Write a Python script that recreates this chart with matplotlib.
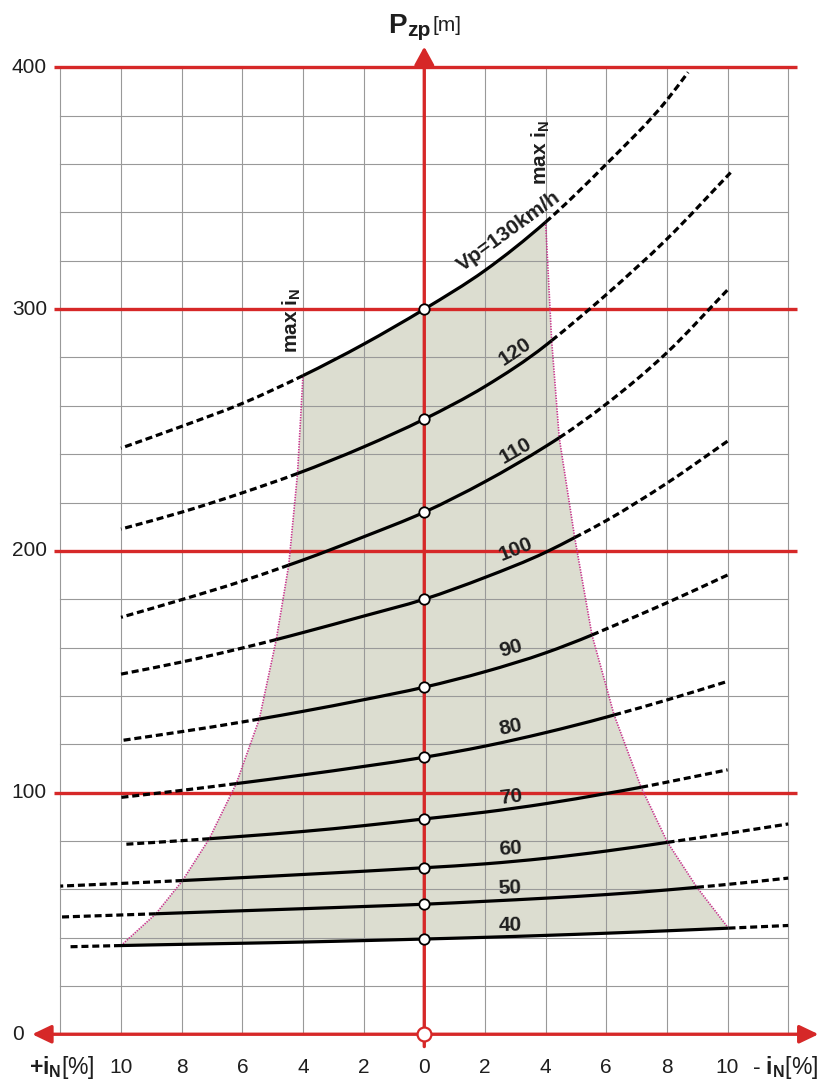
import matplotlib
matplotlib.use('Agg')
import matplotlib.pyplot as plt
from matplotlib.path import Path
from matplotlib.patches import PathPatch
import numpy as np

plt.rcParams['font.family'] = ['Liberation Sans', 'DejaVu Sans']
plt.rcParams['mathtext.fontset'] = 'custom'
plt.rcParams['mathtext.rm'] = 'Liberation Sans'
plt.rcParams['mathtext.bf'] = 'Liberation Sans:bold'
plt.rcParams['mathtext.it'] = 'Liberation Sans:italic'

# ---------------- data ----------------
SPEEDS = [40, 50, 60, 70, 80, 90, 100, 110, 120, 130]
LABELS = ['40', '50', '60', '70', '80', '90', '100', '110', '120', 'Vp=130km/h']

# x < 0 : +i_N (uphill) ; x > 0 : -i_N (downhill)
X_40 = [-11.7, -10, -8, -6, -4, -2, 0, 2, 4, 6, 8, 10.03, 12]
Y_40 = [36.2, 36.7, 37.2, 37.65, 38.15, 38.75, 39.4, 40.1, 40.9, 41.8, 42.8, 43.9, 45.0]
X_50 = [-12, -10, -8.85, -6, -4, -2, 0, 2, 4, 6, 8, 8.99, 10, 12]
Y_50 = [48.5, 49.35, 49.85, 51.1, 51.95, 52.85, 53.8, 55.0, 56.3, 57.8, 59.7, 60.8, 62.0, 64.6]
X_60 = [-12, -10, -7.97, -6, -4, -2, 0, 2, 4, 6, 8.02, 10, 12]
Y_60 = [61.3, 62.4, 63.6, 64.8, 66.1, 67.45, 68.9, 70.5, 72.8, 75.8, 79.4, 83.1, 87.0]
X_70 = [-9.86, -8, -7.09, -6, -4, -2, 0, 2, 4, 6, 7.15, 8, 10]
Y_70 = [78.6, 80.1, 80.9, 81.9, 83.9, 86.3, 89.1, 91.9, 95.4, 99.6, 102.2, 104.3, 109.4]
X_80 = [-10, -8, -6.2, -4, -2, 0, 2, 4, 6, 6.26, 8, 10]
Y_80 = [98, 100.9, 103.7, 107.3, 110.8, 114.6, 119.2, 124.8, 131.2, 132.1, 138.3, 146]
X_90 = [-10, -8, -6, -5.44, -4, -2, 0, 2, 4, 5.53, 6, 8, 10]
Y_90 = [121.5, 125.2, 129.2, 130.4, 133.6, 138.4, 143.6, 150, 157.8, 165.2, 167.7, 178.5, 190]
X_100 = [-10, -8, -6, -4.88, -4, -2, 0, 2, 4, 4.96, 6, 8, 10.07]
Y_100 = [149, 154, 159.8, 163.3, 166.2, 173, 180, 189, 199.4, 205.5, 212.5, 228, 246]
X_110 = [-10, -8, -6, -4.47, -4, -2, 0, 2, 4, 4.45, 6, 8, 10.04]
Y_110 = [172.5, 179.8, 187.5, 194.1, 196.2, 205.8, 216, 228.6, 243.2, 246.8, 260.75, 282, 308.5]
X_120 = [-10, -8, -6, -4.18, -2, 0, 2, 4, 4.2, 6, 8, 10.1]
Y_120 = [209, 216, 224, 232, 243, 254.5, 268, 285, 287, 306, 329, 356.5]
X_130 = [-10, -8, -6, -4, -2, 0, 2, 4, 6, 8, 8.7]
Y_130 = [242.5, 251.5, 261, 272.5, 285.5, 300, 316, 336, 360, 386.5, 398]

# max i_N limits (uphill side negative x, downhill side positive x)
LIMIT_UP = [-10.0, -8.85, -7.97, -7.09, -6.2, -5.44, -4.88, -4.47, -4.18, -4.0]
LIMIT_DOWN = [10.03, 8.99, 8.02, 7.15, 6.26, 5.53, 4.96, 4.45, 4.2, 4.0]

X_TICKS = [-10, -8, -6, -4, -2, 0, 2, 4, 6, 8, 10]
X_TICK_LABELS = ['10', '8', '6', '4', '2', '0', '2', '4', '6', '8', '10']
Y_TICKS = [0, 100, 200, 300, 400]

CURVES_X = [X_40, X_50, X_60, X_70, X_80, X_90, X_100, X_110, X_120, X_130]
CURVES_Y = [Y_40, Y_50, Y_60, Y_70, Y_80, Y_90, Y_100, Y_110, Y_120, Y_130]

# ---------------- style ----------------
RED = '#d62828'
GRID = '#999999'
FILL = '#dcddd0'
MAGENTA = '#c8328c'
TXT = '#1e1e1e'
LW = 2.3
DASH = (0, (2.2, 1.2))

fig = plt.figure(figsize=(8.24, 10.81), dpi=100)
ax = fig.add_axes([0, 0, 1, 1])
ax.set_xlim(-13.99, 13.18)
ax.set_ylim(-19.34, 427.9)
ax.axis('off')


# smooth drawing through the read points (cubic Hermite as Bezier segments)
def slopes(xs, ys):
    h = np.diff(xs)
    d = np.diff(ys) / h
    m = np.empty(len(xs))
    m[0], m[-1] = d[0], d[-1]
    for i in range(1, len(xs) - 1):
        m[i] = (d[i - 1] * h[i] + d[i] * h[i - 1]) / (h[i - 1] + h[i])
    return m


def segs(xs, ys, m, i0, i1):
    out = []
    for i in range(i0, i1):
        h = xs[i + 1] - xs[i]
        p0 = (xs[i], ys[i])
        c1 = (xs[i] + h / 3, ys[i] + m[i] * h / 3)
        c2 = (xs[i + 1] - h / 3, ys[i + 1] - m[i + 1] * h / 3)
        p1 = (xs[i + 1], ys[i + 1])
        out.append((p0, c1, c2, p1))
    return out


def seg_path(sg):
    verts = [sg[0][0]]
    codes = [Path.MOVETO]
    for p0, c1, c2, p1 in sg:
        verts += [c1, c2, p1]
        codes += [Path.CURVE4] * 3
    return Path(verts, codes)


def idx(xs, v):
    return int(np.argmin(np.abs(np.array(xs) - v)))


# grid
for gx in range(-12, 13, 2):
    if gx != 0:
        ax.plot([gx, gx], [0, 400], color=GRID, lw=0.8, zorder=2)
for gy in range(20, 400, 20):
    if gy % 100 != 0:
        ax.plot([-12, 12], [gy, gy], color=GRID, lw=0.8, zorder=2)
for gy in [100, 200, 300, 400]:
    ax.plot([-12.2, 12.3], [gy, gy], color=RED, lw=2.4, zorder=3, solid_capstyle='butt')

n = len(SPEEDS)
XS = [np.array(v, float) for v in CURVES_X]
YS = [np.array(v, float) for v in CURVES_Y]
MS = [slopes(XS[k], YS[k]) for k in range(n)]
IL = [idx(CURVES_X[k], LIMIT_UP[k]) for k in range(n)]
IR = [idx(CURVES_X[k], LIMIT_DOWN[k]) for k in range(n)]

# shaded admissible region
top = segs(XS[-1], YS[-1], MS[-1], IL[-1], IR[-1])
bot = segs(XS[0], YS[0], MS[0], IL[0], IR[0])
verts = [top[0][0]]
codes = [Path.MOVETO]
for p0, c1, c2, p1 in top:
    verts += [c1, c2, p1]; codes += [Path.CURVE4] * 3
for k in range(n - 2, 0, -1):
    verts.append((XS[k][IR[k]], YS[k][IR[k]])); codes.append(Path.LINETO)
verts.append(bot[-1][3]); codes.append(Path.LINETO)
for p0, c1, c2, p1 in reversed(bot):
    verts += [c2, c1, p0]; codes += [Path.CURVE4] * 3
for k in range(1, n):
    verts.append((XS[k][IL[k]], YS[k][IL[k]])); codes.append(Path.LINETO)
verts.append(verts[0]); codes.append(Path.CLOSEPOLY)
ax.add_patch(PathPatch(Path(verts, codes), facecolor=FILL, edgecolor='none', zorder=1))

# boundary lines (max i_N)
ax.plot([XS[k][IL[k]] for k in range(n)], [YS[k][IL[k]] for k in range(n)],
        color=MAGENTA, lw=1.2, dashes=(0.8, 0.8), zorder=4)
ax.plot([XS[k][IR[k]] for k in range(n)], [YS[k][IR[k]] for k in range(n)],
        color=MAGENTA, lw=1.2, dashes=(0.8, 0.8), zorder=4)

# curves
for k in range(n):
    xs, ys, m = XS[k], YS[k], MS[k]
    il, ir = IL[k], IR[k]
    ax.add_patch(PathPatch(seg_path(segs(xs, ys, m, il, ir)), fill=False,
                           edgecolor='black', lw=LW, capstyle='butt', zorder=5))
    if il > 0:
        left = segs(xs, ys, m, 0, il)
        rev = [(p1, c2, c1, p0) for (p0, c1, c2, p1) in reversed(left)]
        ax.add_patch(PathPatch(seg_path(rev), fill=False, edgecolor='black', lw=LW,
                               linestyle=DASH, capstyle='butt', zorder=5))
    if ir < len(xs) - 1:
        ax.add_patch(PathPatch(seg_path(segs(xs, ys, m, ir, len(xs) - 1)), fill=False,
                               edgecolor='black', lw=LW, linestyle=DASH,
                               capstyle='butt', zorder=5))
    i0 = idx(CURVES_X[k], 0)
    ax.plot([xs[i0]], [ys[i0]], marker='o', ms=7.5, mfc='white', mec='black',
            mew=1.3, zorder=7)

# axes (red arrows)
ax.annotate('', xy=(13.0, 0), xytext=(-12.93, 0),
            arrowprops=dict(arrowstyle='<|-|>,head_length=1.15,head_width=0.55',
                            mutation_scale=10, lw=2.4, color=RED,
                            shrinkA=0, shrinkB=0), zorder=6)
ax.annotate('', xy=(0, 408.6), xytext=(0, -5.1),
            arrowprops=dict(arrowstyle='-|>,head_length=1.1,head_width=0.6',
                            mutation_scale=10, lw=2.4, color=RED,
                            shrinkA=0, shrinkB=0), zorder=6)
ax.plot([0], [0], marker='o', ms=10, mfc='white', mec=RED, mew=1.6, zorder=7)

# tick labels
for v in Y_TICKS:
    ax.text(-13.6, v, str(v), ha='left', va='center', fontsize=15, color=TXT)
for x, lab in zip(X_TICKS, X_TICK_LABELS):
    ax.text(x, -13.7, lab, ha='center', va='center', fontsize=15, color=TXT)
ax.text(-13.03, -13.9, r'$\mathbf{+i}_{\mathbf{N}}$[%]', ha='left', va='center',
        fontsize=16.5, color=TXT)
ax.text(12.98, -13.9, r'- $\mathbf{i}_{\mathbf{N}}$[%]', ha='right', va='center',
        fontsize=16.5, color=TXT)

# y axis title
ax.text(-1.2, 414.1, 'P', fontsize=20, fontweight='bold', ha='left', va='baseline', color=TXT)
ax.text(-0.55, 412.8, 'zp', fontsize=15, fontweight='bold', ha='left', va='baseline', color=TXT)
ax.text(0.28, 415.1, '[m]', fontsize=15, ha='left', va='baseline', color=TXT)

# max i_N labels
ax.text(-4.0, 281.9, r'max i$_{\mathbf{N}}$', rotation=90, ha='right', va='bottom',
        fontsize=15, fontweight='bold', color=TXT)
ax.text(4.21, 351.3, r'max i$_{\mathbf{N}}$', rotation=90, ha='right', va='bottom',
        fontsize=15, fontweight='bold', color=TXT)

# curve labels
LABEL_POS = [(2.83, 45.2, 1), (2.83, 60.3, 2), (2.83, 76.9, 4), (2.86, 98.2, 7),
             (2.83, 127.1, 12), (2.86, 159.8, 16), (3.02, 200.6, 22),
             (3.02, 241.3, 30), (2.99, 282.3, 34), (2.79, 332.1, 36)]
for lab, (lx, ly, rot) in zip(LABELS, LABEL_POS):
    ax.text(lx, ly, lab, rotation=rot, ha='center', va='center', fontsize=15,
            fontweight='bold', color=TXT, zorder=8)

fig.savefig('out.png', dpi=100, facecolor='white')
